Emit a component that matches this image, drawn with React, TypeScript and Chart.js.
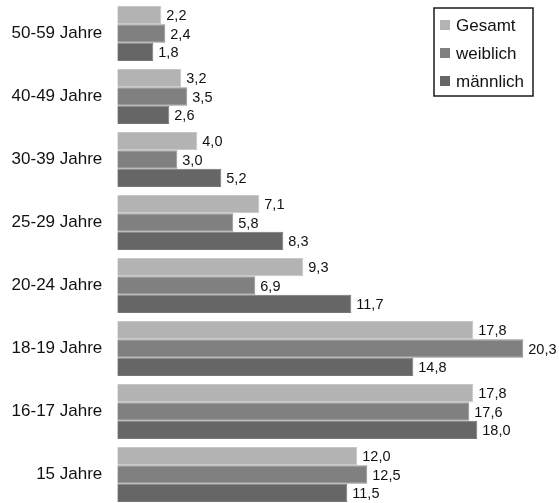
import React, { useEffect, useRef } from "react";
import { Chart, registerables } from "chart.js";

Chart.register(...registerables);

const categories = [
  "50-59 Jahre",
  "40-49 Jahre",
  "30-39 Jahre",
  "25-29 Jahre",
  "20-24 Jahre",
  "18-19 Jahre",
  "16-17 Jahre",
  "15 Jahre",
];

const seriesNames = ["Gesamt", "weiblich", "männlich"];
const gesamt = [2.2, 3.2, 4.0, 7.1, 9.3, 17.8, 17.8, 12.0];
const weiblich = [2.4, 3.5, 3.0, 5.8, 6.9, 20.3, 17.6, 12.5];
const maennlich = [1.8, 2.6, 5.2, 8.3, 11.7, 14.8, 18.0, 11.5];

const fills = ["#b3b3b3", "#808080", "#666666"];
const edges = ["#c6c6c6", "#919191", "#777777"];
const FONT = "'Liberation Sans', Arial, sans-serif";

const fmt = (v: number) => v.toFixed(1).replace(".", ",");

// Writes each bar's value just past its end
const valueLabels = {
  id: "valueLabels",
  afterDatasetsDraw(chart: any) {
    const ctx = chart.ctx;
    ctx.save();
    ctx.font = `14.5px ${FONT}`;
    ctx.fillStyle = "#111";
    ctx.textAlign = "left";
    ctx.textBaseline = "middle";
    chart.data.datasets.forEach((ds: any, i: number) => {
      const meta = chart.getDatasetMeta(i);
      meta.data.forEach((el: any, j: number) => {
        ctx.fillText(fmt(ds.data[j]), el.x + 5, el.y + 1);
      });
    });
    ctx.restore();
  },
};

// Boxed legend in the upper right corner
const boxLegend = {
  id: "boxLegend",
  afterDraw(chart: any) {
    const ctx = chart.ctx;
    const x = 434;
    const y = 8;
    const w = 99;
    const h = 88;
    ctx.save();
    ctx.fillStyle = "#fff";
    ctx.fillRect(x, y, w, h);
    ctx.strokeStyle = "#1a1a1a";
    ctx.lineWidth = 1.5;
    ctx.strokeRect(x, y, w, h);
    ctx.font = `17px ${FONT}`;
    ctx.textBaseline = "middle";
    ctx.textAlign = "left";
    chart.data.datasets.forEach((ds: any, i: number) => {
      const cy = y + 17 + i * 28;
      ctx.fillStyle = ds.backgroundColor;
      ctx.fillRect(x + 6, cy - 5, 10, 10);
      ctx.fillStyle = "#111";
      ctx.fillText(ds.label, x + 22, cy + 1);
    });
    ctx.restore();
  },
};

export default function App() {
  const ref = useRef<HTMLCanvasElement>(null);

  useEffect(() => {
    if (!ref.current) return;
    const values = [gesamt, weiblich, maennlich];
    const chart = new Chart(ref.current, {
      type: "bar",
      data: {
        labels: categories,
        datasets: seriesNames.map((name, i) => ({
          label: name,
          data: values[i],
          backgroundColor: fills[i],
          borderColor: edges[i],
          borderWidth: 1,
          borderSkipped: "start",
          categoryPercentage: 0.873,
          barPercentage: 1,
        })),
      },
      options: {
        indexAxis: "y",
        responsive: false,
        animation: false,
        layout: { padding: { top: 2, bottom: 2, left: 0, right: 1.7 } },
        plugins: {
          legend: { display: false },
          tooltip: { enabled: false },
        },
        scales: {
          x: {
            display: false,
            min: 0,
            max: 22,
          },
          y: {
            border: { display: false },
            grid: { display: false, drawTicks: false },
            ticks: {
              padding: 15,
              color: "#111",
              font: { family: FONT, size: 17 },
            },
            afterFit(scale: any) {
              // fixed gutter for the labels, no extra room above/below
              scale.width = 117.3;
              scale.paddingTop = 0;
              scale.paddingBottom = 0;
            },
          },
        },
      },
      plugins: [valueLabels, boxLegend],
    });
    return () => chart.destroy();
  }, []);

  return (
    <div
      style={{
        position: "fixed",
        left: 0,
        top: 0,
        width: 559,
        height: 503,
        overflow: "hidden",
        background: "#fff",
      }}
    >
      <canvas ref={ref} width={559} height={508} style={{ display: "block" }} />
    </div>
  );
}
